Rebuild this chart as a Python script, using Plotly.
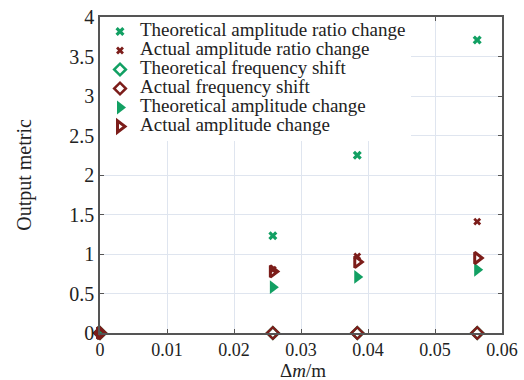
import plotly.graph_objects as go

x_vals = [0, 0.0258, 0.0384, 0.0563]
theo_ratio = [0, 1.23, 2.25, 3.71]
act_ratio = [0, 0.80, 0.97, 1.41]
theo_freq = [0, 0, 0, 0]
act_freq = [0, 0, 0, 0]
theo_amp = [0, 0.58, 0.71, 0.80]
act_amp = [0, 0.78, 0.90, 0.95]

names = ["Theoretical amplitude ratio change", "Actual amplitude ratio change",
         "Theoretical frequency shift", "Actual frequency shift",
         "Theoretical amplitude change", "Actual amplitude change"]

GREEN = "#12a063"
BROWN = "#7c1d1a"

series = [
    (theo_ratio, "x", GREEN, 8, 0),
    (act_ratio, "x", BROWN, 7, 0),
    (theo_freq, "diamond-open", GREEN, 9, 2.5),
    (act_freq, "diamond-open", BROWN, 9, 2.5),
    (theo_amp, "triangle-right", GREEN, 12, 0),
    (act_amp, "triangle-right-open", BROWN, 10, 3),
]

fig = go.Figure()
for (ys, sym, col, sz, lw), nm in zip(series, names):
    fig.add_trace(go.Scatter(
        x=x_vals, y=ys, mode="markers", cliponaxis=False,
        name='<span style="font-size:19px">' + nm + '</span>',
        marker=dict(symbol=sym, color=col, size=sz, line=dict(color=col, width=lw)),
    ))

font_family = "Liberation Serif"
fig.update_layout(
    width=524, height=380,
    margin=dict(l=100, r=22, t=17, b=47),
    paper_bgcolor="white", plot_bgcolor="white",
    font=dict(family=font_family, color="#222", size=19),
    showlegend=True,
    legend=dict(x=0.0, y=1.0, xanchor="left", yanchor="top",
                bgcolor="white", borderwidth=0,
                font=dict(family=font_family, size=12, color="#222"),
                itemwidth=30, tracegroupgap=0),
    xaxis=dict(range=[0, 0.06], tickvals=[0, 0.01, 0.02, 0.03, 0.04, 0.05, 0.06],
               ticktext=["0", "0.01", "0.02", "0.03", "0.04", "0.05", "0.06"],
               showgrid=True, gridcolor="#dfe5ef", gridwidth=1,
               showline=True, linecolor="#555", linewidth=1.5, mirror="ticks",
               ticks="inside", ticklen=4, tickcolor="#555", zeroline=False,
               tickfont=dict(size=18), automargin=False),
    yaxis=dict(range=[0, 4], tickvals=[0, 0.5, 1, 1.5, 2, 2.5, 3, 3.5, 4],
               ticktext=["0", "0.5", "1", "1.5", "2", "2.5", "3", "3.5", "4"],
               showgrid=True, gridcolor="#dfe5ef", gridwidth=1,
               showline=True, linecolor="#555", linewidth=1.5, mirror="ticks",
               ticks="inside", ticklen=4, tickcolor="#555", zeroline=False,
               tickfont=dict(size=20), automargin=False,
               title=dict(text="Output metric", font=dict(size=20), standoff=32)),
    annotations=[dict(text="Δ<i>m</i>/m", xref="paper", yref="paper", x=0.505, y=0,
                      xanchor="center", yanchor="bottom", yshift=-50, showarrow=False,
                      font=dict(size=19, family=font_family, color="#222"))],
)

fig.write_html("out.html")
